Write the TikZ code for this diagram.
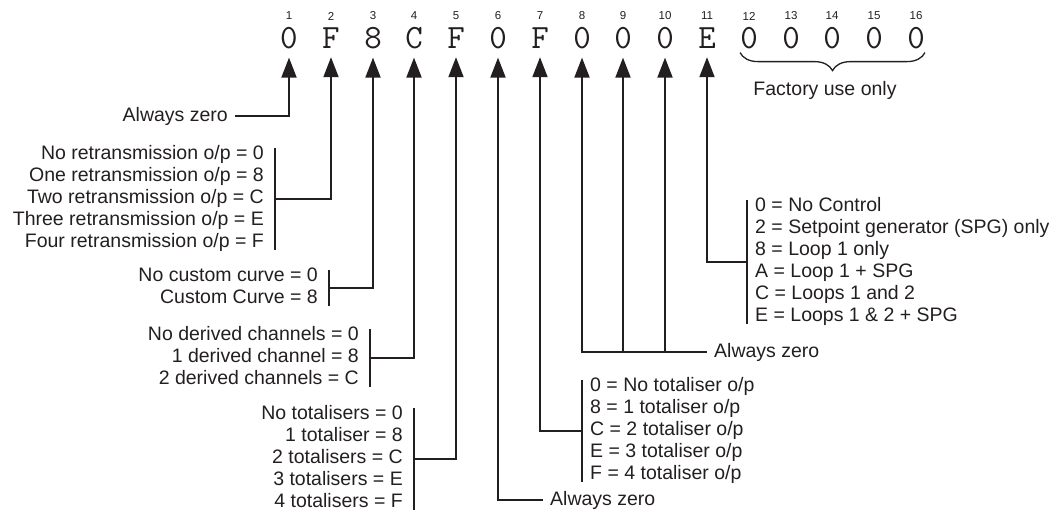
\documentclass[tikz,border=0pt]{standalone}
\usepackage{fontspec}
\setmainfont{Liberation Sans}
\usepackage{tikz}
\usetikzlibrary{arrows.meta, positioning, decorations.pathreplacing, calc}
\definecolor{ink}{HTML}{231F20}

\begin{document}
\begin{tikzpicture}[
  x=1pt, y=-1pt,
  font=\fontsize{19.5}{22}\selectfont,
  color=ink,
  digit/.style={font=\ttfamily\fontsize{34}{34}\selectfont,anchor=base,inner sep=0pt},
  place/.style={font=\fontsize{11.5}{12}\selectfont},
  leftgroup/.style={align=right,anchor=east,inner xsep=11pt,inner ysep=0pt},
  rightgroup/.style={align=left,anchor=west,inner xsep=8pt,inner ysep=0pt},
  zero/.style={inner xsep=7pt},
  arr/.style={-{Triangle[length=20pt,width=15pt]},line width=1.9pt,shorten >=9pt},
  brk/.style={line width=1.9pt,shorten <=4pt,shorten >=4pt},
  brace/.style={decorate,decoration={brace,mirror,amplitude=18pt},line width=1.3pt}
]
\useasboundingbox (0,0) rectangle (1057,512);

% code digits and their positions
\foreach \ch [count=\i] in {0,F,8,C,F,0,F,0,0,0,E,0,0,0,0,0} {
  \pgfmathsetmacro{\px}{round(289+(\i-1)*41.8)}
  \node[digit] (d\i) at (\px,48) {\ch};
  \node[place] (n\i) at (\px,16) {\i};
}

% left hand options
\node[zero,anchor=east] (az1) at (235,116) {Always zero};
\node[leftgroup] (retx) at (275,199) {\strut No retransmission o/p = 0\\\strut One retransmission o/p = 8\\\strut Two retransmission o/p = C\\\strut Three retransmission o/p = E\\\strut Four retransmission o/p = F};
\node[leftgroup] (curve) at (329,288) {\strut No custom curve = 0\\\strut Custom Curve = 8};
\node[leftgroup] (derived) at (370,358) {\strut No derived channels = 0\\\strut 1 derived channel = 8\\\strut 2 derived channels = C};
\node[leftgroup] (totals) at (414,459) {\strut No totalisers = 0\\\strut 1 totaliser = 8\\\strut 2 totalisers = C\\\strut 3 totalisers = E\\\strut 4 totalisers = F};

% right hand options
\node[zero,anchor=west] (az6) at (543,500) {Always zero};
\node[rightgroup] (totout) at (582,431) {\strut 0 = No totaliser o/p\\\strut 8 = 1 totaliser o/p\\\strut C = 2 totaliser o/p\\\strut E = 3 totaliser o/p\\\strut F = 4 totaliser o/p};
\node[zero,anchor=west] (az8) at (707,352) {Always zero};
\node[rightgroup] (control) at (747,262) {\strut 0 = No Control\\\strut 2 = Setpoint generator (SPG) only\\\strut 8 = Loop 1 only\\\strut A = Loop 1 + SPG\\\strut C = Loops 1 and 2\\\strut E = Loops 1 \& 2 + SPG};

% factory digits
\draw[brace] ([yshift=-4pt]d12.south west) -- ([yshift=-4pt]d16.south east);
\node (factory) at (825,90) {Factory use only};

% brackets
\foreach \g in {retx,curve,derived,totals}
  \draw[brk] (\g.north east) -- (\g.south east);
\foreach \g in {totout,control}
  \draw[brk] (\g.north west) -- (\g.south west);

% connectors
\draw[arr] (az1.east) -| (d1.south);
\draw[arr] (retx.east) -| (d2.south);
\draw[arr] (curve.east) -| (d3.south);
\draw[arr] (derived.east) -| (d4.south);
\draw[arr] (totals.east) -| (d5.south);
\draw[arr] (az6.west) -| (d6.south);
\draw[arr] (totout.west) -| (d7.south);
\draw[arr] (az8.west) -| (d8.south);
\draw[arr] (d9.south |- az8.west) -- (d9.south);
\draw[arr] (d10.south |- az8.west) -- (d10.south);
\draw[arr] (control.west) -| (d11.south);
\end{tikzpicture}
\end{document}
